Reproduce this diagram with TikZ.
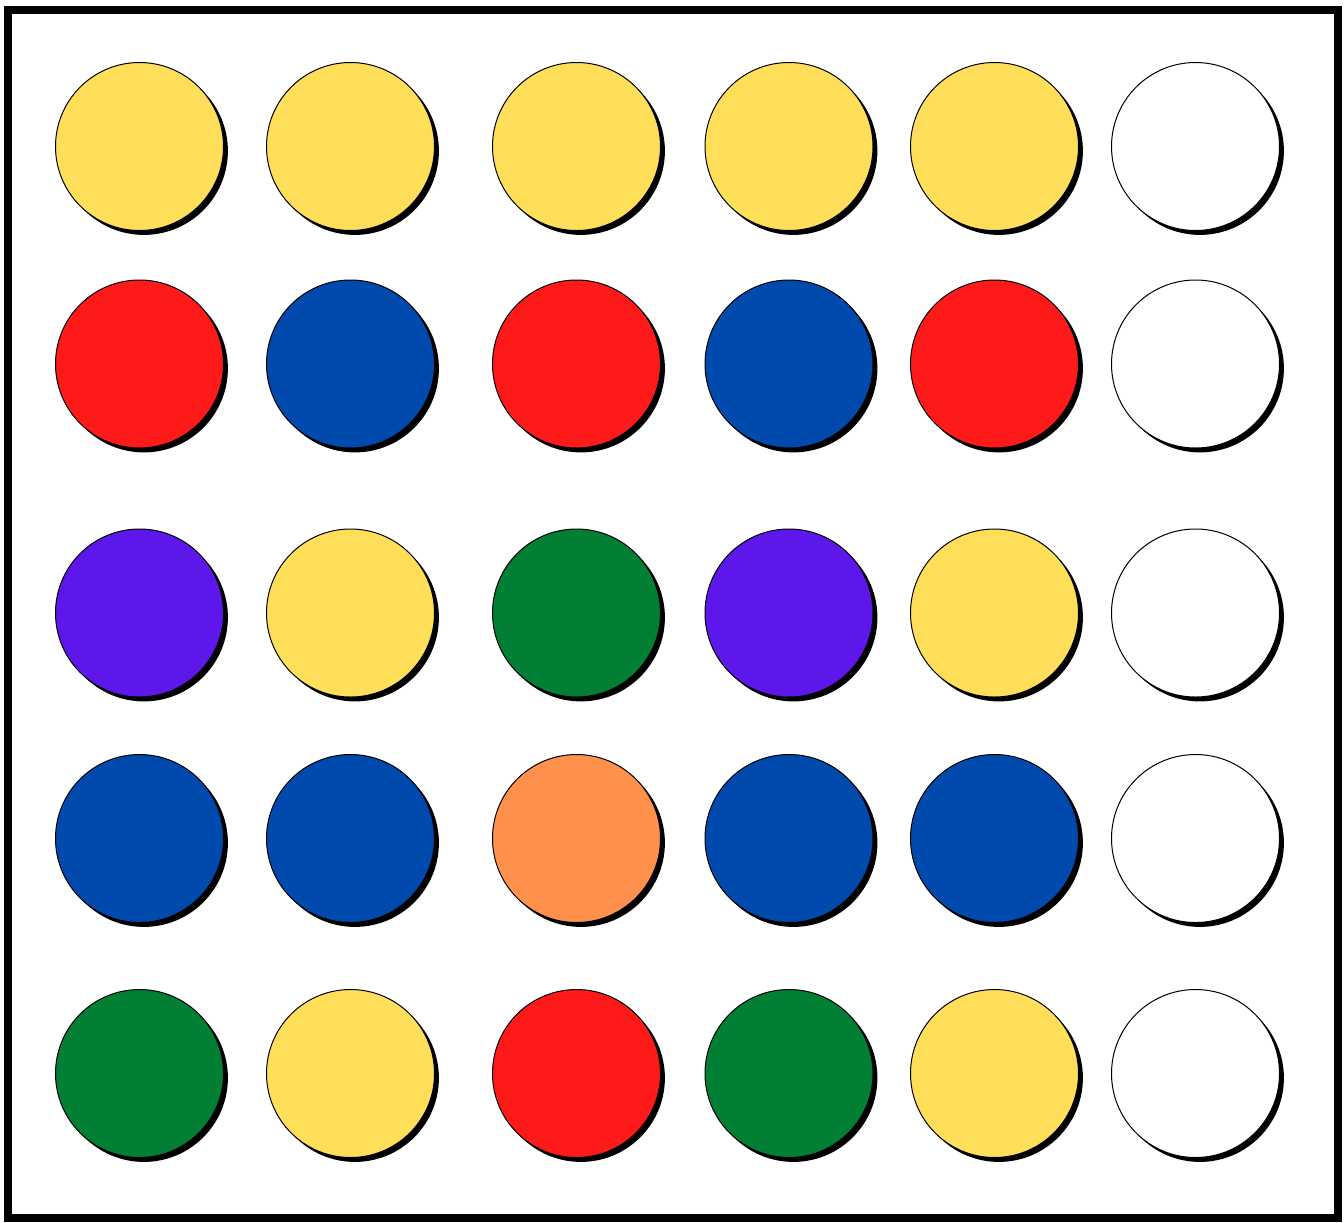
\documentclass[tikz,border=0pt]{standalone}
\usepackage{tikz}
\usetikzlibrary{shadows}

\definecolor{peg yellow}{HTML}{FFDE59}
\definecolor{peg red}{HTML}{FF1A1A}
\definecolor{peg blue}{HTML}{004AAD}
\definecolor{peg purple}{HTML}{5E17EB}
\definecolor{peg green}{HTML}{007F35}
\definecolor{peg orange}{HTML}{FF914D}

\begin{document}
\begin{tikzpicture}[
  x=0.5pt, y=-0.5pt,
  peg/.style={circle, draw, line width=0.5pt, minimum size=84pt, inner sep=0pt,
    drop shadow={shadow xshift=2.2pt, shadow yshift=-2.2pt, fill=black, opacity=1}},
  board/.style={draw, line width=4pt}
]
  \useasboundingbox (0,0) rectangle (1344,1222);
  \draw[board] (7.5,10) rectangle (1337.5,1218);

  % row 1
  \node[peg, fill=peg yellow] (r1c1) at (139.5,146.5) {};
  \node[peg, fill=peg yellow] (r1c2) at (350.5,146.5) {};
  \node[peg, fill=peg yellow] (r1c3) at (576.5,146.5) {};
  \node[peg, fill=peg yellow] (r1c4) at (789,146.5) {};
  \node[peg, fill=peg yellow] (r1c5) at (994.5,146.5) {};
  \node[peg, fill=white] (r1c6) at (1195.5,146.5) {};

  % row 2
  \node[peg, fill=peg red] (r2c1) at (139.5,364) {};
  \node[peg, fill=peg blue] (r2c2) at (350.5,364) {};
  \node[peg, fill=peg red] (r2c3) at (576.5,364) {};
  \node[peg, fill=peg blue] (r2c4) at (789,364) {};
  \node[peg, fill=peg red] (r2c5) at (994.5,364) {};
  \node[peg, fill=white] (r2c6) at (1195.5,364) {};

  % row 3
  \node[peg, fill=peg purple] (r3c1) at (139.5,613) {};
  \node[peg, fill=peg yellow] (r3c2) at (350.5,613) {};
  \node[peg, fill=peg green] (r3c3) at (576.5,613) {};
  \node[peg, fill=peg purple] (r3c4) at (789,613) {};
  \node[peg, fill=peg yellow] (r3c5) at (994.5,613) {};
  \node[peg, fill=white] (r3c6) at (1195.5,613) {};

  % row 4
  \node[peg, fill=peg blue] (r4c1) at (139.5,838.5) {};
  \node[peg, fill=peg blue] (r4c2) at (350.5,838.5) {};
  \node[peg, fill=peg orange] (r4c3) at (576.5,838.5) {};
  \node[peg, fill=peg blue] (r4c4) at (789,838.5) {};
  \node[peg, fill=peg blue] (r4c5) at (994.5,838.5) {};
  \node[peg, fill=white] (r4c6) at (1195.5,838.5) {};

  % row 5
  \node[peg, fill=peg green] (r5c1) at (139.5,1073.5) {};
  \node[peg, fill=peg yellow] (r5c2) at (350.5,1073.5) {};
  \node[peg, fill=peg red] (r5c3) at (576.5,1073.5) {};
  \node[peg, fill=peg green] (r5c4) at (789,1073.5) {};
  \node[peg, fill=peg yellow] (r5c5) at (994.5,1073.5) {};
  \node[peg, fill=white] (r5c6) at (1195.5,1073.5) {};
\end{tikzpicture}
\end{document}
